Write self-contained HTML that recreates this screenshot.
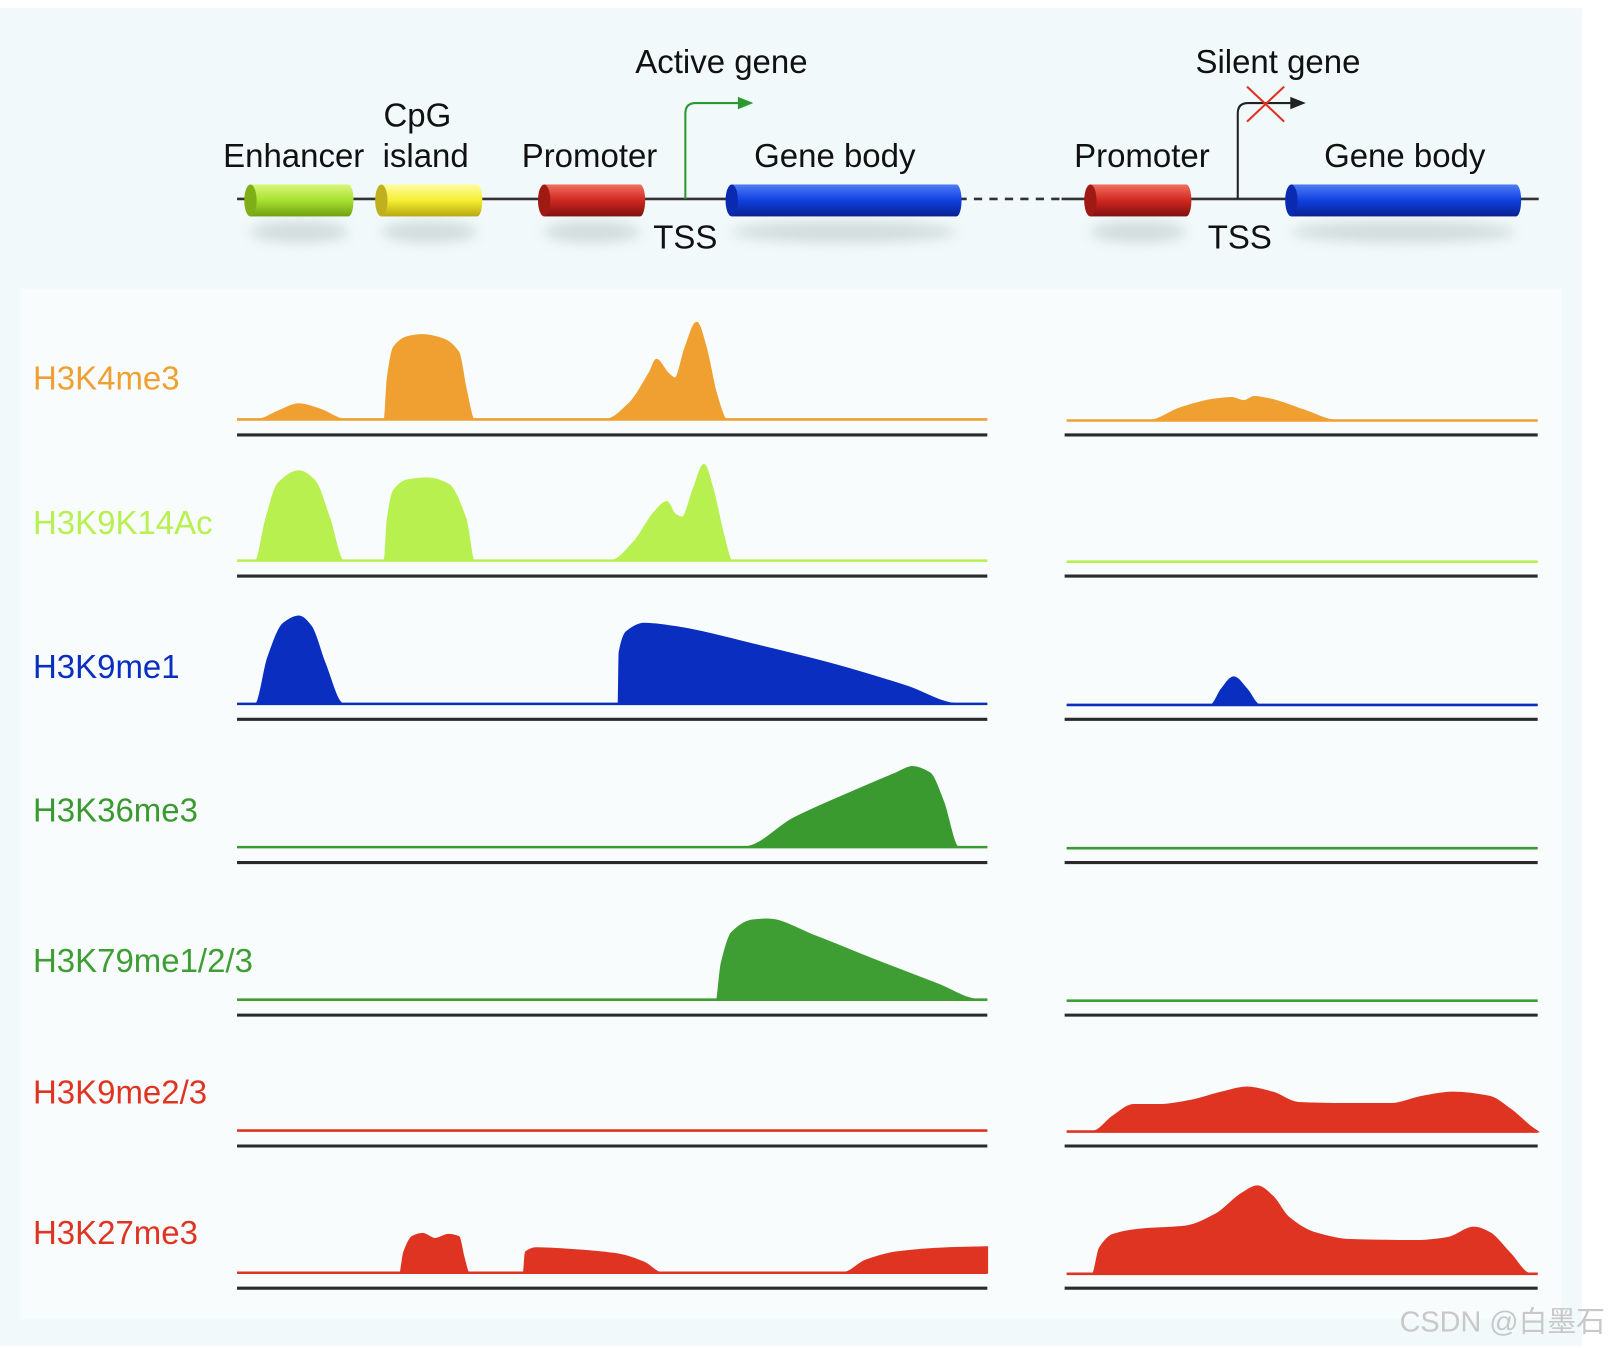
<!DOCTYPE html>
<html><head><meta charset="utf-8"><style>
html,body{margin:0;padding:0;background:#fff}
svg{display:block}
text{font-family:"Liberation Sans","Noto Sans CJK SC",sans-serif}
</style></head><body>
<svg id="chart" width="1616" height="1348" viewBox="0 0 1568 1308" preserveAspectRatio="none" xmlns="http://www.w3.org/2000/svg">
<defs>
<linearGradient id="gGreen" x1="0" y1="0" x2="0" y2="1"><stop offset="0" stop-color="#d8f77a"/><stop offset="0.5" stop-color="#a8e030"/><stop offset="1" stop-color="#6fa010"/></linearGradient>
<linearGradient id="gYellow" x1="0" y1="0" x2="0" y2="1"><stop offset="0" stop-color="#fffca0"/><stop offset="0.5" stop-color="#f5ee30"/><stop offset="1" stop-color="#b8a810"/></linearGradient>
<linearGradient id="gRed" x1="0" y1="0" x2="0" y2="1"><stop offset="0" stop-color="#f07060"/><stop offset="0.5" stop-color="#d02820"/><stop offset="1" stop-color="#801010"/></linearGradient>
<linearGradient id="gBlue" x1="0" y1="0" x2="0" y2="1"><stop offset="0" stop-color="#4f7cf5"/><stop offset="0.5" stop-color="#1040e0"/><stop offset="1" stop-color="#0a2090"/></linearGradient>
<filter id="sh" x="-20%" y="-50%" width="140%" height="300%"><feGaussianBlur stdDeviation="6"/></filter>
</defs>
<rect x="0" y="8" width="1535" height="1298" fill="#f1f9fa"/>
<rect x="20" y="280" width="1495" height="1000" fill="#f8fcfd"/>
<g id="schematic"></g>
<g id="tracks"></g>
<text x="1358" y="1292" font-size="28" fill="#c8c8c8">CSDN @白墨石</text>
</svg>
<script>
// Track data: genomic positions (left locus 0-728, right locus 0-457) and signal heights (0-100)
const trackNames = ["H3K4me3","H3K9K14Ac","H3K9me1","H3K36me3","H3K79me1/2/3","H3K9me2/3","H3K27me3"];
const trackColors = ["#f0a030","#b8f050","#0a2fc0","#3a9a30","#3e9e34","#e03422","#e03422"];
const activePos = [
 [0,20,40,60,80,105,143,146,152,165,180,200,215,222,230,358,380,400,407,418,425,435,446,455,465,475,728],
 [0,18,28,40,60,75,90,103,143,146,152,165,185,205,222,230,363,385,405,417,425,432,443,453,462,472,480,728],
 [0,18,30,45,60,72,85,103,370,371,378,395,430,500,580,650,700,728],
 [0,492,540,600,640,655,672,685,700,728],
 [0,465,470,480,500,515,560,620,680,720,728],
 [0,728],
 [0,158,162,170,180,192,205,215,220,225,278,280,290,330,370,395,412,588,610,640,690,728]
];
const activeVal = [
 [0,0,8,15,10,0,0,40,70,80,82,78,65,30,0,0,15,45,58,45,40,70,94,70,25,0,0],
 [0,0,40,75,87,78,40,0,0,40,68,78,80,74,40,0,0,18,47,57,45,42,70,93,68,25,0,0],
 [0,0,45,78,85,75,40,0,0,50,70,78,74,58,38,17,0,0],
 [0,0,28,55,72,78,72,45,0,0],
 [0,0,35,65,77,78,62,38,15,0,0],
 [0,0],
 [0,0,20,35,38,33,37,35,15,0,0,20,24,22,18,10,0,0,12,20,24,25]
];
const silentPos = [
 [0,80,110,140,160,172,182,200,230,262,457],
 [0,457],
 [0,140,150,162,175,187,457],
 [0,457],
 [0,452],
 [0,25,45,65,90,120,150,175,200,225,270,315,345,375,410,430,450,457],
 [0,25,32,45,70,115,145,170,185,200,215,240,275,340,370,395,410,430,450,457]
];
const silentVal = [
 [0,0,12,20,22,19,23,20,10,0,0],
 [0,0],
 [0,0,15,27,15,0,0],
 [0,0],
 [0,0],
 [0,0,15,26,26,30,38,43,38,28,27,27,34,38,34,22,5,0],
 [0,0,25,38,43,46,58,78,85,75,55,40,33,32,35,45,40,20,0,0]
];
const baselines = [407,544,683,822,970,1097,1235];
const labelY = [367,507,647,786,932,1060,1196];

const NS="http://www.w3.org/2000/svg";
function mk(tag,attrs,parent){const e=document.createElementNS(NS,tag);for(const k in attrs)e.setAttribute(k,attrs[k]);parent.appendChild(e);return e;}
const xLeft = p => 230 + p;          // left locus axis
const xRight = p => 1035 + p;        // right locus axis
const yScale = (v,base) => base - v; // signal height axis

function monoPath(xs,ys){
 const n=xs.length; if(n<2) return "";
 const d=[],m=[];
 for(let i=0;i<n-1;i++) d.push((ys[i+1]-ys[i])/(xs[i+1]-xs[i]||1));
 m[0]=d[0]; m[n-1]=d[n-2];
 for(let i=1;i<n-1;i++){ if(d[i-1]*d[i]<=0) m[i]=0; else m[i]=2/(1/d[i-1]+1/d[i]); }
 let s=`M${xs[0]},${ys[0]}`;
 for(let i=0;i<n-1;i++){const h=xs[i+1]-xs[i];
  s+=` C${xs[i]+h/3},${ys[i]+m[i]*h/3} ${xs[i+1]-h/3},${ys[i+1]-m[i+1]*h/3} ${xs[i+1]},${ys[i+1]}`;}
 return s;
}
const tg=document.getElementById('tracks');
function drawProfile(pos,val,xf,base,color,name,endX){
 const xs=pos.map(xf), ys=val.map(v=>yScale(v,base));
 const p=mk('path',{d:monoPath(xs,ys)+` L${xs[xs.length-1]},${base} L${xs[0]},${base} Z`,fill:color,stroke:color,'stroke-width':1.5},tg);
 
 
 const l=mk('line',{x1:xs[0],y1:base,x2:endX,y2:base,stroke:color,'stroke-width':2.5},tg);
 
 
}
trackNames.forEach((nm,i)=>{
 const slug=nm.toLowerCase().replace(/[^a-z0-9]+/g,'-');
 const t=mk('text',{x:32,y:labelY[i]+11,'font-size':32,fill:trackColors[i]},tg); t.textContent=nm;
 
 
 drawProfile(activePos[i],activeVal[i],xLeft,baselines[i],trackColors[i],slug+'-active-profile',958);
 drawProfile(silentPos[i],silentVal[i],xRight,baselines[i]+1,trackColors[i],slug+'-silent-profile',1492);
 [[230,958],[1033,1492]].forEach((r,j)=>{
  const a=mk('line',{x1:r[0],y1:baselines[i]+15,x2:r[1],y2:baselines[i]+15,stroke:'#2a2a2a','stroke-width':3},tg);
  
  
 });
});

// schematic
const sg=document.getElementById('schematic');
mk('line',{x1:230,y1:193,x2:930,y2:193,stroke:'#333','stroke-width':2.5},sg);
mk('line',{x1:930,y1:193,x2:1030,y2:193,stroke:'#333','stroke-width':2.5,'stroke-dasharray':'8,7'},sg);
mk('line',{x1:1030,y1:193,x2:1493,y2:193,stroke:'#333','stroke-width':2.5},sg);
function cyl(x1,x2,grad,dark,name){
 const g=mk('g',{},sg);
 mk('ellipse',{cx:(x1+x2)/2,cy:225,rx:(x2-x1)/2,ry:10,fill:'#bcc8c8',opacity:0.6,filter:'url(#sh)'},g);
 mk('rect',{x:x1,y:179,width:x2-x1,height:31,fill:grad},g);
 mk('ellipse',{cx:x1,cy:194.5,rx:6,ry:15.5,fill:dark},g);
 mk('ellipse',{cx:x2,cy:194.5,rx:5,ry:15.5,fill:grad},g);
}
cyl(243,338,'url(#gGreen)','#7fae18','enhancer-element');
cyl(370,463,'url(#gYellow)','#c0b020','cpg-island-element');
cyl(528,621,'url(#gRed)','#a01a14','active-promoter-element');
cyl(710,928,'url(#gBlue)','#0a2ab0','active-gene-body-element');
cyl(1058,1151,'url(#gRed)','#a01a14','silent-promoter-element');
cyl(1253,1471,'url(#gBlue)','#0a2ab0','silent-gene-body-element');
// TSS arrows
mk('path',{d:'M665,193 L665,110 Q665,100 675,100 L718,100',fill:'none',stroke:'#2a9a30','stroke-width':2},sg);
mk('path',{d:'M716,94 L731,100 L716,106 Z',fill:'#2a9a30'},sg);
mk('path',{d:'M1201,193 L1201,110 Q1201,100 1211,100 L1253,100',fill:'none',stroke:'#222','stroke-width':2},sg);
mk('path',{d:'M1252,94 L1267,100 L1252,106 Z',fill:'#222'},sg);
mk('path',{d:'M1210,84 L1246,118 M1246,84 L1210,118',stroke:'#e03020','stroke-width':2,fill:'none'},sg);
const labels=[["Active gene",700,71,'active-gene-title'],["Silent gene",1240,71,'silent-gene-title'],["CpG",405,123,'cpg-label'],
 ["Enhancer",285,162,'enhancer-label'],["island",413,162,'island-label'],["Promoter",572,162,'promoter-label'],["Gene body",810,162,'gene-body-label'],
 ["Promoter",1108,162,'silent-promoter-label'],["Gene body",1363,162,'silent-gene-body-label'],["TSS",665,241,'active-tss-label'],["TSS",1203,241,'silent-tss-label']];
labels.forEach(l=>{const t=mk('text',{x:l[1],y:l[2],'font-size':32,'text-anchor':'middle',fill:'#111'},sg);t.textContent=l[0];
 
 });
</script>
</body></html>
